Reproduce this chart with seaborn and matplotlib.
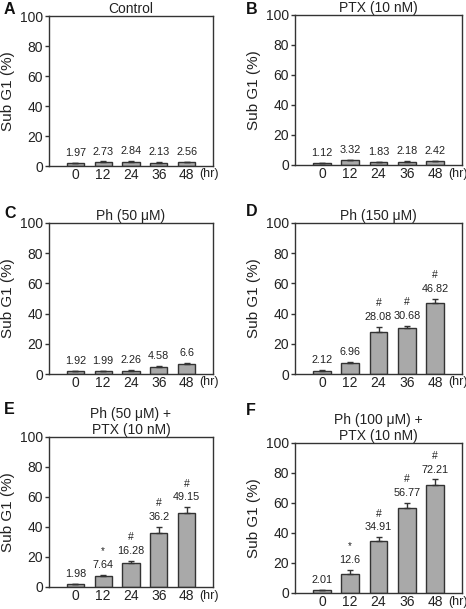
import numpy as np
import pandas as pd
import matplotlib
matplotlib.use("Agg")
import matplotlib.pyplot as plt
import seaborn as sns

hours = ["0", "12", "24", "36", "48"]

titles = ["Control", "PTX (10 nM)", "Ph (50 \u03bcM)", "Ph (150 \u03bcM)",
          "Ph (50 \u03bcM) +\nPTX (10 nM)", "Ph (100 \u03bcM) +\nPTX (10 nM)"]
letters = ["A", "B", "C", "D", "E", "F"]

vals_A = [1.97, 2.73, 2.84, 2.13, 2.56]
vals_B = [1.12, 3.32, 1.83, 2.18, 2.42]
vals_C = [1.92, 1.99, 2.26, 4.58, 6.6]
vals_D = [2.12, 6.96, 28.08, 30.68, 46.82]
vals_E = [1.98, 7.64, 16.28, 36.2, 49.15]
vals_F = [2.01, 12.6, 34.91, 56.77, 72.21]

err_A = [0.3, 0.3, 0.4, 0.3, 0.3]
err_B = [0.2, 0.3, 0.3, 0.3, 0.3]
err_C = [0.3, 0.3, 0.3, 0.6, 0.7]
err_D = [0.3, 0.8, 3.0, 1.3, 2.8]
err_E = [0.3, 0.5, 1.2, 4.0, 4.0]
err_F = [0.3, 3.0, 2.2, 3.5, 3.5]

marks_A = ["", "", "", "", ""]
marks_B = ["", "", "", "", ""]
marks_C = ["", "", "", "", ""]
marks_D = ["", "", "#", "#", "#"]
marks_E = ["", "*", "#", "#", "#"]
marks_F = ["", "*", "#", "#", "#"]

labels_A = ["1.97", "2.73", "2.84", "2.13", "2.56"]
labels_B = ["1.12", "3.32", "1.83", "2.18", "2.42"]
labels_C = ["1.92", "1.99", "2.26", "4.58", "6.6"]
labels_D = ["2.12", "6.96", "28.08", "30.68", "46.82"]
labels_E = ["1.98", "7.64", "16.28", "36.2", "49.15"]
labels_F = ["2.01", "12.6", "34.91", "56.77", "72.21"]

yticks = [0, 20, 40, 60, 80, 100]

panels = [
    (vals_A, err_A, marks_A, labels_A),
    (vals_B, err_B, marks_B, labels_B),
    (vals_C, err_C, marks_C, labels_C),
    (vals_D, err_D, marks_D, labels_D),
    (vals_E, err_E, marks_E, labels_E),
    (vals_F, err_F, marks_F, labels_F),
]

# pixel boxes: left, right, top, bottom
boxes = [
    (49, 213, 16, 166),
    (295, 462, 15, 165),
    (49, 213, 223, 374),
    (295, 462, 223, 374),
    (49, 213, 437, 587),
    (295, 462, 443, 593),
]
letter_pos = [(4, 2), (246, 2), (4, 206), (246, 204), (4, 402), (246, 403)]

sns.set_style("ticks")
plt.rcParams["font.family"] = ["Liberation Sans", "DejaVu Sans"]

W, H = 466, 609
fig = plt.figure(figsize=(W / 100, H / 100), dpi=100)
edge = "#333333"
txt = "#222222"

for i, ((vals, errs, marks, labs), (l, r, t, b)) in enumerate(zip(panels, boxes)):
    ax = fig.add_axes([l / W, 1 - b / H, (r - l) / W, (b - t) / H])
    df = pd.DataFrame({"hr": hours, "v": vals})
    sns.barplot(data=df, x="hr", y="v", order=hours, color="#a9a9a9",
                edgecolor=edge, linewidth=1.0, width=0.62, saturation=1,
                errorbar=None, ax=ax, zorder=2)
    x = np.arange(len(hours))
    ax.errorbar(x, vals, yerr=[np.zeros(len(errs)), errs], fmt="none",
                ecolor=edge, elinewidth=1.0, capsize=2.2, capthick=1.0, zorder=3)
    for xi, v, e, lab, m in zip(x, vals, errs, labs, marks):
        ax.annotate(lab, xy=(xi, v + e), xytext=(0, 3.5), textcoords="offset points",
                    ha="center", va="bottom", fontsize=7.8, color=txt)
        if m:
            ax.annotate(m, xy=(xi, v + e), xytext=(0, 13.5), textcoords="offset points",
                        ha="center", va="bottom", fontsize=7.5 if m == "#" else 7,
                        color=txt)
    ax.set_xlim(-0.95, 4.95)
    ax.set_ylim(0, 100)
    ax.set_yticks(yticks)
    ax.set_yticklabels([str(v) for v in yticks], fontsize=10, color=txt)
    ax.set_xticks(x)
    ax.set_xticklabels(hours, fontsize=10, color=txt)
    ax.tick_params(axis="x", length=0, pad=1.5)
    ax.tick_params(axis="y", length=3, width=1, pad=1.5, color=edge)
    ax.annotate("(hr)", xy=(4.8, 0), xycoords=("data", "axes fraction"),
                xytext=(0, -1.8), textcoords="offset points", ha="center", va="top",
                fontsize=9, color=txt)
    ax.set_xlabel("")
    ax.set_ylabel("Sub G1 (%)", fontsize=11, color=txt, labelpad=3)
    for s in ax.spines.values():
        s.set_visible(True)
        s.set_color(edge)
        s.set_linewidth(1.0)
    ax.set_title(titles[i], fontsize=10, color=txt, pad=2, linespacing=1.2)
    lx, ly = letter_pos[i]
    fig.text(lx / W, 1 - ly / H, letters[i],
             fontsize=11.5, fontweight="bold", color="#111111", ha="left", va="top")

fig.savefig("out.png", dpi=100)
